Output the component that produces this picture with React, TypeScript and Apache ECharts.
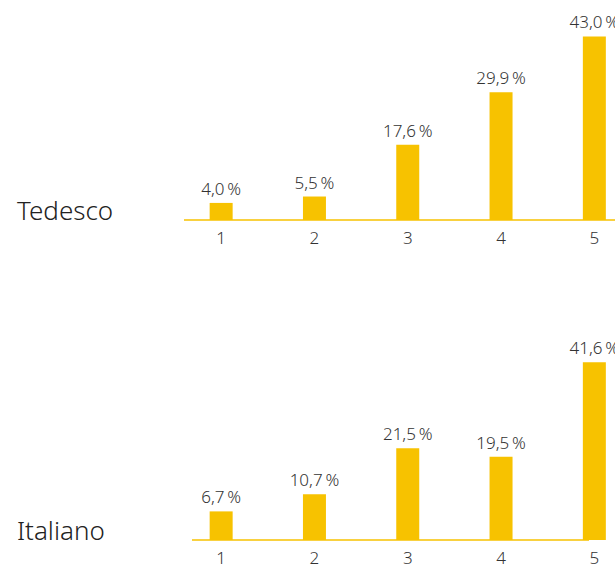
import React, { useEffect, useRef } from "react";
import * as echarts from "echarts";

const categories = ["1", "2", "3", "4", "5"];
const tedescoValues = [4.0, 5.5, 17.6, 29.9, 43.0];
const italianoValues = [6.7, 10.7, 21.5, 19.5, 41.6];
const groupNames = ["Tedesco", "Italiano"];

const BAR_COLOR = "#F7C200";
const FONT = "'Noto Sans', 'Open Sans', sans-serif";

const fmt = (v: number) => v.toFixed(1).replace(".", ",") + "\u2009%";

export default function App() {
  const ref = useRef<HTMLDivElement>(null);
  useEffect(() => {
    if (!ref.current) return;
    const chart = echarts.init(ref.current, undefined, { renderer: "svg" });
    const mkX = (gi: number) => ({
      type: "category",
      gridIndex: gi,
      data: categories,
      axisLine: { show: false },
      axisTick: { show: false },
      axisLabel: { color: "#333", fontSize: 17, fontFamily: FONT, fontWeight: 300, margin: 9 },
    });
    const mkY = (gi: number) => ({
      type: "value",
      gridIndex: gi,
      min: 0,
      max: 50,
      show: false,
      splitLine: { show: false },
    });
    const mkSeries = (gi: number, data: number[]) => ({
      type: "bar",
      xAxisIndex: gi,
      yAxisIndex: gi,
      data,
      barWidth: 23,
      itemStyle: { color: BAR_COLOR },
      label: {
        show: true,
        position: "top",
        distance: 6,
        color: "#333",
        fontSize: 17,
        fontWeight: 300,
        fontFamily: FONT,
        formatter: (p: any) => fmt(p.value),
      },
    });
    chart.setOption({
      animation: false,
      grid: [
        { left: 174.5, width: 466.5, top: 6.5, height: 213.5, containLabel: false, outerBoundsMode: "none" },
        { left: 174.5, width: 466.5, top: 326.5, height: 213.5, containLabel: false, outerBoundsMode: "none" },
      ],
      xAxis: [mkX(0), mkX(1)],
      yAxis: [mkY(0), mkY(1)],
      series: [mkSeries(0, tedescoValues), mkSeries(1, italianoValues)],
      graphic: [
        {
          type: "line",
          shape: { x1: 184, y1: 220, x2: 615, y2: 220 },
          style: { stroke: BAR_COLOR, lineWidth: 1.5 },
          z: 10,
        },
        {
          type: "line",
          shape: { x1: 192, y1: 540, x2: 589, y2: 540 },
          style: { stroke: BAR_COLOR, lineWidth: 1.5 },
          z: 10,
        },
        {
          type: "text",
          left: 17,
          top: 197,
          style: { text: groupNames[0], fontSize: 26, fontWeight: 300, fontFamily: FONT, fill: "#222" },
        },
        {
          type: "text",
          left: 17,
          top: 517,
          style: { text: groupNames[1], fontSize: 26, fontWeight: 300, fontFamily: FONT, fill: "#222" },
        },
      ],
    });
    return () => chart.dispose();
  }, []);
  return (
    <div
      ref={ref}
      style={{ position: "fixed", left: 0, top: 0, width: 615, height: 568, background: "#fff" }}
    />
  );
}
